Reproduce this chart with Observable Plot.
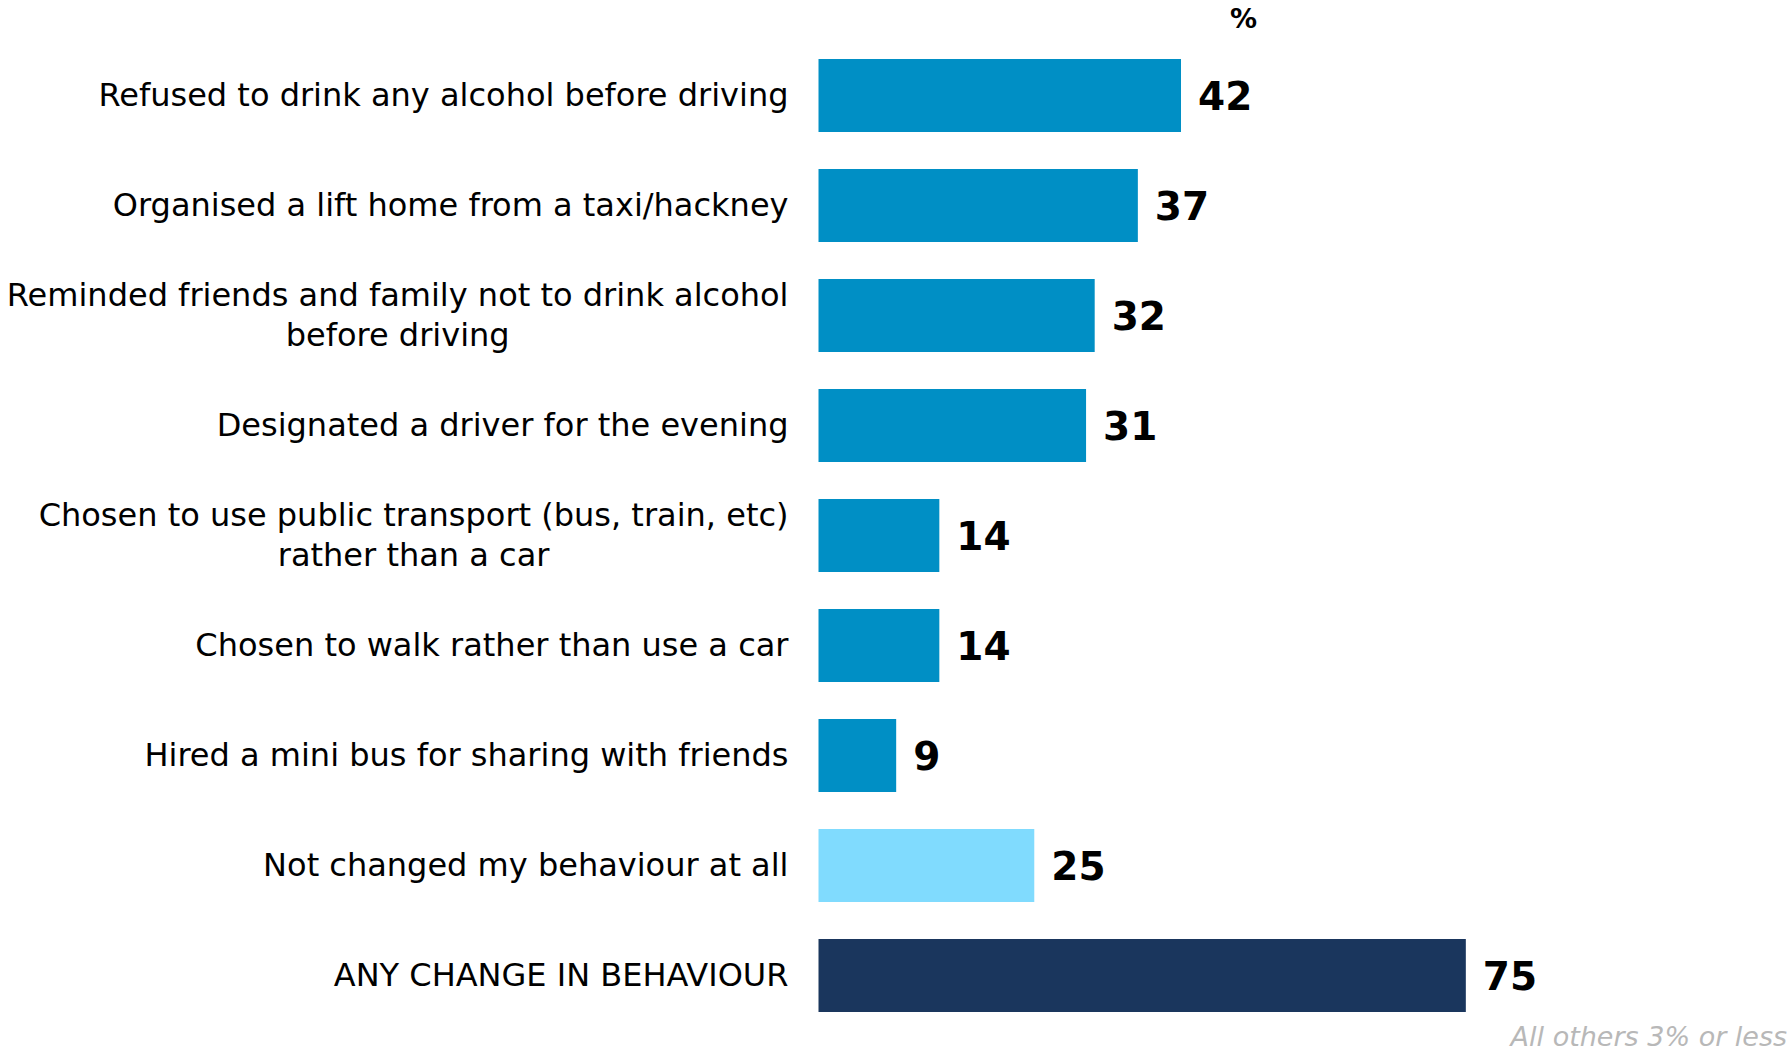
<!DOCTYPE html>
<html>
<head>
<meta charset="utf-8">
<script src="https://cdn.jsdelivr.net/npm/d3@7"></script>
<script src="https://cdn.jsdelivr.net/npm/@observablehq/plot@0.6"></script>
<style>
  html, body { margin: 0; padding: 0; background: #fff; }
  #chart { width: 1790px; height: 1050px; }
</style>
</head>
<body>
<div id="chart"></div>
<script>
const categories = [
  "Refused to drink any alcohol before driving",
  "Organised a lift home from a taxi/hackney",
  "Reminded friends and family not to drink alcohol\nbefore driving",
  "Designated a driver for the evening",
  "Chosen to use public transport (bus, train, etc)\nrather than a car",
  "Chosen to walk rather than use a car",
  "Hired a mini bus for sharing with friends",
  "Not changed my behaviour at all",
  "ANY CHANGE IN BEHAVIOUR"
];
const values = [42, 37, 32, 31, 14, 14, 9, 25, 75];
const groups = ["change", "change", "change", "change", "change", "change", "change", "none", "any"];
const groupNames = ["change", "none", "any"];
const groupColors = ["#008fc5", "#80dbfe", "#1a365d"];
const unitLabel = "%";
const footnote = "All others 3% or less";

const data = categories.map((c, i) => ({category: c, value: values[i], group: groups[i]}));

const FONT = "'DejaVu Sans', Verdana, sans-serif";

const chart = Plot.plot({
  width: 1790,
  height: 1050,
  marginLeft: 818.5,
  marginRight: 108.4,
  marginTop: 21,
  marginBottom: 1,
  style: {fontFamily: FONT, background: "#fff", color: "#000"},
  x: {domain: [0, 100], axis: null},
  y: {domain: categories, padding: 0.337, label: null},
  color: {domain: groupNames, range: groupColors},
  marks: [
    Plot.barX(data, {x: "value", y: "category", fill: "group"}),
    Plot.text(data, {
      x: "value", y: "category", text: d => String(d.value),
      textAnchor: "start", dx: 16.5, dy: 2,
      fontSize: 39, fontWeight: "bold", fill: "#000"
    }),
    Plot.axisY({
      tickSize: 0, tickPadding: 30.5, fontSize: 32, lineHeight: 1.24, dy: -3,
      fill: "#000", label: null, textAnchor: "end"
    }),
    Plot.text([unitLabel], {
      frameAnchor: "top-left", text: d => d, textAnchor: "middle", lineAnchor: "bottom",
      dx: 424.5, dy: 6, fontSize: 27, fontWeight: "bold", fill: "#000"
    }),
    Plot.text([footnote], {
      frameAnchor: "bottom-right", text: d => d, textAnchor: "end", lineAnchor: "bottom",
      dx: 105, dy: -4, fontSize: 27, fontStyle: "italic", fill: "#b8b8b8"
    })
  ]
});

document.getElementById("chart").appendChild(chart);

// centre the lines of multi-line axis labels relative to each other
chart.querySelectorAll("text").forEach(t => {
  const spans = t.querySelectorAll("tspan");
  if (spans.length > 1) {
    const widths = Array.from(spans, s => s.getComputedTextLength());
    const maxW = Math.max(...widths);
    spans.forEach((s, i) => {
      s.setAttribute("x", -(maxW - widths[i]) / 2);
    });
  }
});
</script>
</body>
</html>
